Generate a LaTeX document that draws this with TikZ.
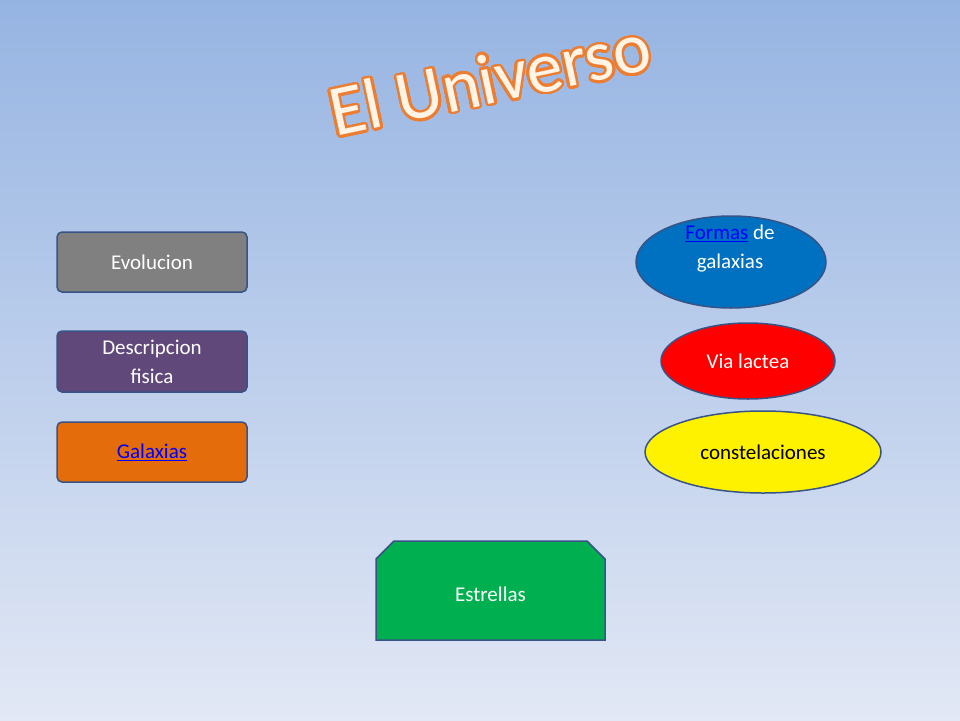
\documentclass[tikz,border=0pt]{standalone}
\usepackage{fontspec}
\setmainfont{Carlito}
\usepackage{contour}
\usetikzlibrary{shapes.geometric}
\definecolor{bgtop}{RGB}{150,180,226}
\definecolor{bgbot}{RGB}{226,232,245}
\definecolor{edge}{RGB}{56,84,134}
\definecolor{ttl}{RGB}{236,125,49}
\definecolor{cream}{RGB}{255,244,230}
\tikzset{
 box/.style={draw=edge,line width=1.5pt,rounded corners=5pt,text=white,font=\fontsize{21}{29}\selectfont,align=center},
 oval/.style={draw=edge,line width=1.5pt,ellipse,text=white,font=\fontsize{21}{29}\selectfont,align=center,inner sep=0pt}
}
\newcommand{\lk}[1]{\textcolor{blue}{\underline{#1}}}
\begin{document}
\begin{tikzpicture}[x=1pt,y=-1pt]
\shade[top color=bgtop,bottom color=bgbot] (0,0) rectangle (960,720);
\useasboundingbox (0,0) rectangle (960,720);
\node[rotate=12,font=\fontsize{72}{80}\selectfont] (title) at (490,80) {\contourlength{2.5pt}\contournumber{32}\contour{ttl}{\textcolor{cream}{El Universo}}};
\node[box,fill={rgb,255:red,128;green,128;blue,128},minimum width=190,minimum height=60] (evo) at (152,262) {Evolucion};
\node[box,fill={rgb,255:red,96;green,73;blue,122},minimum width=190,minimum height=61] (desc) at (152,361.5) {Descripcion\\fisica};
\node[box,fill={rgb,255:red,228;green,108;blue,10},minimum width=190,minimum height=60] (gal) at (152,452) {\lk{Galaxias}};
\node[oval,fill={rgb,255:red,0;green,112;blue,192},minimum width=190,minimum height=92] (formas) at (731,262) {};
\node[text=white,font=\fontsize{21}{29}\selectfont,align=center] (formasT) at (730,249) {\lk{Formas} de\\galaxias};
\node[oval,fill=red,minimum width=174,minimum height=76] (via) at (748,361) {Via lactea};
\node[oval,fill=yellow,text=black,minimum width=236,minimum height=82] (const) at (763,452) {constelaciones};
\draw[draw=edge,line width=1.5pt,fill={rgb,255:red,0;green,176;blue,80}] (376,640) -- (376,559) -- (394,541) -- (587,541) -- (605,559) -- (605,640) -- cycle;
\node[text=white,font=\fontsize{21}{29}\selectfont] (est) at (490.5,594) {Estrellas};
\end{tikzpicture}
\end{document}
